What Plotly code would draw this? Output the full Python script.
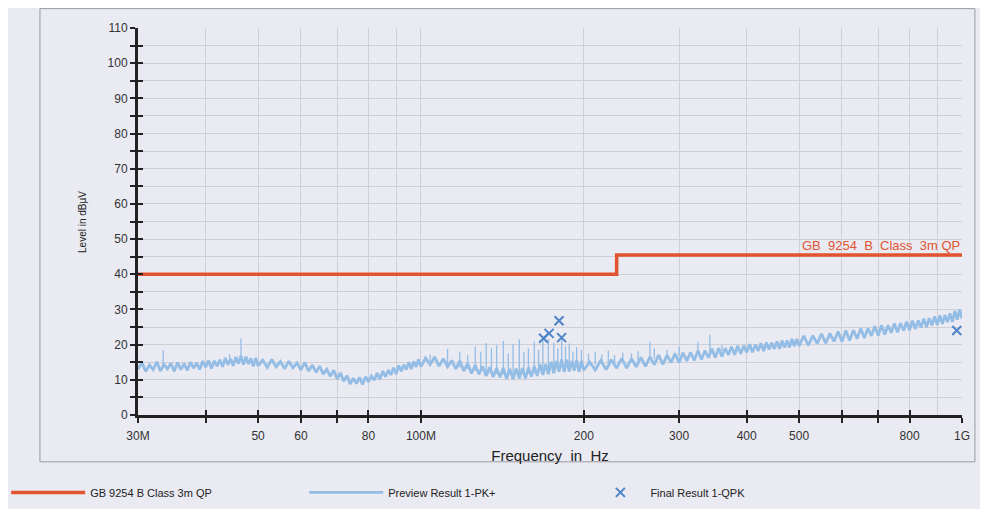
import plotly.graph_objects as go

# limit line (GB 9254 class B, 3 m, QP)
limit_mhz = [30, 230, 230, 1000]
limit_db = [40, 40, 45.5, 45.5]

# preview scan 1-PK+ (MHz, dBuV)
preview_mhz = [
    30.0, 30.5, 31.0, 31.5, 32.0, 32.5, 33.0, 33.5, 34.0, 34.5,
    35.0, 35.5, 36.0, 36.5, 37.0, 37.5, 38.0, 38.5, 39.0, 39.5,
    40.0, 40.5, 41.0, 41.5, 42.0, 42.5, 43.0, 43.5, 44.0, 44.5,
    45.0, 45.5, 46.0, 46.5, 47.0, 47.5, 48.0, 48.5, 49.0, 49.5,
    50, 51, 52, 53, 54, 55, 56, 57, 58, 59,
    60, 61, 62, 63, 64, 65, 66, 67, 68, 69,
    70, 71, 72, 73, 74, 75, 76, 77, 78, 79,
    80, 81, 82, 83, 84, 85, 86, 87, 88, 89,
    90, 91, 92, 93, 94, 95, 96, 97, 98, 99,
    100, 102, 104, 106, 108, 110, 112, 114, 116, 118,
    120, 122, 124, 126, 128, 130, 132, 134, 136, 138,
    140, 142, 144, 146, 148, 150, 152, 154, 156, 158,
    160, 162, 164, 166, 168, 170, 172, 174, 176, 178,
    180, 182, 184, 186, 188, 190, 192, 194, 196, 198,
    200, 205, 210, 215, 220, 225, 230, 235, 240, 245,
    250, 255, 260, 265, 270, 275, 280, 285, 290, 295,
    300, 305, 310, 315, 320, 325, 330, 335, 340, 345,
    350, 355, 360, 365, 370, 375, 380, 385, 390, 395,
    400, 405, 410, 415, 420, 425, 430, 435, 440, 445,
    450, 455, 460, 465, 470, 475, 480, 485, 490, 495,
    500, 510, 520, 530, 540, 550, 560, 570, 580, 590,
    600, 610, 620, 630, 640, 650, 660, 670, 680, 690,
    700, 710, 720, 730, 740, 750, 760, 770, 780, 790,
    800, 810, 820, 830, 840, 850, 860, 870, 880, 890,
    900, 910, 920, 930, 940, 950, 960, 970, 980, 990,
    1000,
]
preview_db = [
    13.0, 14.9, 12.4, 14.2, 12.9, 15.1, 12.5, 14.4, 13.1, 14.7,
    12.4, 14.9, 12.9, 14.6, 12.7, 15.0, 13.3, 14.8, 12.9, 15.3,
    13.6, 15.5, 13.2, 15.4, 13.9, 15.7, 13.7, 16.2, 14.3, 15.9,
    14.0, 16.5, 14.6, 16.8, 14.3, 16.6, 14.5, 16.1, 13.8, 16.2,
    14.0, 15.6, 13.5, 15.8, 13.7, 15.2, 13.1, 15.3, 13.4, 14.8,
    12.8, 14.9, 12.5, 14.2, 12.1, 13.9, 11.6, 13.0, 11.0, 12.7,
    10.2, 12.0, 9.6, 11.2, 8.8, 10.5, 8.9, 10.7, 8.7, 10.9,
    9.4, 11.1, 9.9, 11.9, 10.2, 12.5, 10.9, 12.8, 11.4, 13.4,
    11.7, 14.1, 12.4, 14.3, 12.9, 15.0, 13.1, 15.2, 13.7, 15.8,
    13.8, 16.2, 14.3, 16.5, 13.9, 16.0, 13.7, 15.5, 13.1, 15.4,
    12.5, 14.7, 11.8, 14.2, 11.6, 13.8, 11.1, 13.6, 10.8, 13.3,
    10.7, 13.4, 10.3, 13.1, 10.2, 13.2, 10.4, 13.3, 10.4, 13.5,
    10.9, 13.8, 11.1, 14.4, 11.4, 14.5, 11.6, 15.1, 11.9, 15.3,
    12.3, 15.8, 12.2, 15.7, 12.4, 15.3, 12.6, 15.6, 12.3, 15.4,
    12.7, 15.1, 12.8, 15.5, 12.9, 15.7, 13.3, 16.1, 13.3, 16.0,
    13.7, 16.4, 13.8, 16.5, 14.3, 17.0, 14.4, 17.0, 14.9, 17.5,
    14.9, 17.7, 15.4, 17.8, 15.5, 18.3, 15.8, 18.3, 16.3, 18.8,
    16.3, 19.0, 16.6, 19.0, 17.1, 19.4, 17.1, 19.7, 17.4, 19.7,
    17.8, 20.1, 17.8, 20.0, 18.2, 20.4, 18.2, 20.6, 18.6, 20.5,
    18.8, 20.9, 18.8, 21.1, 19.2, 21.2, 19.2, 21.6, 19.6, 21.6,
    19.6, 22.5, 19.8, 22.6, 20.3, 23.1, 20.4, 23.2, 20.9, 23.7,
    20.9, 24.0, 21.2, 24.1, 21.7, 24.6, 21.9, 24.7, 22.5, 25.2,
    22.6, 25.5, 22.9, 25.5, 23.4, 26.0, 23.5, 26.1, 24.0, 26.5,
    24.1, 26.8, 24.4, 26.9, 24.9, 27.4, 25.0, 27.5, 25.5, 28.0,
    25.6, 28.3, 25.9, 28.4, 26.4, 28.9, 26.5, 29.6, 27.1, 30.0,
    27.4,
]

# narrow spurs on top of the noise floor
spike_mhz = [33.4, 44.3, 46.5, 104, 112, 118, 122, 126, 129, 132,
             135, 138, 142, 145, 148, 152, 155, 158, 162, 165,
             168, 172, 176, 179, 182, 185, 188, 191, 194, 198,
             204, 210, 216, 222, 228, 236, 245, 252, 265, 270,
             285, 300, 325, 342, 360]
spike_top = [18.3, 17.2, 21.8, 17.2, 18.8, 18.0, 17.0, 19.5, 18.0, 20.5,
             19.0, 19.8, 21.0, 17.5, 20.2, 21.5, 18.0, 19.0, 20.8, 18.5,
             22.4, 21.6, 20.5, 19.0, 22.0, 19.5, 20.3, 18.0, 19.2, 18.5,
             17.5, 18.0, 17.2, 18.3, 17.0, 17.8, 17.5, 18.2, 20.8, 19.0,
             18.5, 19.5, 20.8, 22.8, 20.0]
spike_base = [13.5, 15.0, 15.5, 15.0, 14.0, 13.5, 13.0, 12.5, 12.3, 12.0,
              11.8, 11.7, 11.6, 11.5, 11.5, 11.5, 11.6, 11.7, 12.0, 12.3,
              12.6, 13.0, 13.3, 13.5, 13.6, 13.7, 13.8, 13.8, 13.9, 14.0,
              14.2, 14.3, 14.5, 14.6, 14.8, 15.0, 15.2, 15.4, 15.8, 16.0,
              16.4, 16.8, 17.4, 17.8, 18.2]

# final QPK results
final_mhz = [168.5, 172.5, 180, 182, 978]
final_db = [21.8, 23.2, 26.8, 22.0, 24.0]

x_ticks = [30, 40, 50, 60, 70, 80, 100, 200, 300, 400, 500, 600, 700, 800, 1000]
x_labels = ["30M", "", "50", "60", "", "80", "100M", "200", "300", "400", "500", "", "", "800", "1G"]
x_grid = [90, 900]
y_ticks = list(range(0, 111, 10))

RED = "#e2542f"
BLUE = "#94bde6"
MARK = "#4d84c8"
BG = "#eaeaf2"
GRID = "#cfcfd8"
FONT = "Liberation Sans"

fig = go.Figure()

fig.add_trace(go.Scatter(x=preview_mhz, y=preview_db, mode="lines",
                         line=dict(color=BLUE, width=2.8),
                         name="Preview Result 1-PK+", legend="legend2"))

sx, sy = [], []
for f, t, b in zip(spike_mhz, spike_top, spike_base):
    sx += [f, f, None]
    sy += [b, t, None]
fig.add_trace(go.Scatter(x=sx, y=sy, mode="lines", line=dict(color=BLUE, width=1.3),
                         showlegend=False, hoverinfo="skip"))

fig.add_trace(go.Scatter(x=limit_mhz, y=limit_db, mode="lines",
                         line=dict(color=RED, width=3.5),
                         name="GB 9254 B Class 3m QP", legend="legend"))

fig.add_trace(go.Scatter(x=final_mhz, y=final_db, mode="markers",
                         marker=dict(symbol="x-thin", size=9, line=dict(color=MARK, width=2)),
                         name="Final Result 1-QPK", legend="legend3"))

# overlay axes only carry the inward half of the crossing ticks
fig.add_trace(go.Scatter(x=[30], y=[0], xaxis="x2", yaxis="y2", mode="markers",
                         marker=dict(opacity=0), showlegend=False, hoverinfo="skip"))

leg = dict(orientation="h", xanchor="left", y=-0.2, yanchor="middle",
           bgcolor="rgba(0,0,0,0)", font=dict(size=11, color="#222"))

# page body adds an 8px offset, so the figure is sized 8px smaller
fig.update_layout(
    width=980, height=501,
    margin=dict(l=130, r=26, t=20, b=94, autoexpand=False),
    paper_bgcolor=BG, plot_bgcolor=BG,
    font=dict(family=FONT, size=12, color="#333333"),
    xaxis=dict(type="log", range=[1.4771, 3.0], tickvals=x_ticks, ticktext=x_labels,
               ticks="outside", ticklen=5, tickwidth=2, tickcolor="#222",
               showline=True, linewidth=3, linecolor="#222",
               showgrid=True, gridcolor=GRID, gridwidth=1,
               minor=dict(tickvals=x_grid, showgrid=True, gridcolor=GRID, ticks=""),
               tickfont=dict(size=12, color="#333"), ticklabelstandoff=3,
               title=dict(text="Frequency  in  Hz", font=dict(size=15, color="#222"), standoff=9),
               zeroline=False, automargin=False),
    yaxis=dict(range=[0, 110], tickvals=y_ticks,
               ticks="outside", ticklen=5, tickwidth=2, tickcolor="#222",
               showline=True, linewidth=3, linecolor="#222",
               showgrid=True, gridcolor=GRID, gridwidth=1,
               minor=dict(dtick=5, ticks="outside", ticklen=5, tickwidth=2, tickcolor="#222",
                          showgrid=True, gridcolor=GRID),
               tickfont=dict(size=12, color="#333"), zeroline=False, automargin=False),
    xaxis2=dict(type="log", range=[1.4771, 3.0], overlaying="x", anchor="y2", side="bottom",
                tickvals=x_ticks, ticks="inside", ticklen=5, tickwidth=2, tickcolor="#222",
                showticklabels=False, showgrid=False, zeroline=False, showline=False),
    yaxis2=dict(range=[0, 110], overlaying="y", anchor="x2", side="left", dtick=5,
                ticks="inside", ticklen=5, tickwidth=2, tickcolor="#222",
                showticklabels=False, showgrid=False, zeroline=False, showline=False),
    legend=dict(leg, x=-0.16, itemwidth=74),
    legend2=dict(leg, x=0.2017, itemwidth=74),
    legend3=dict(leg, x=0.549, itemwidth=50),
    showlegend=True,
)

fig.add_annotation(text="Level in dBµV", textangle=-90, xref="paper", yref="paper",
                   x=-0.0765, y=0.5, showarrow=False, font=dict(size=10, color="#222"))
fig.add_annotation(text="GB  9254  B  Class  3m QP", xref="paper", yref="y", x=1.0, y=45.5,
                   xanchor="right", yanchor="bottom", showarrow=False,
                   font=dict(size=13, color=RED))

# frame around the printed chart
fig.add_shape(type="rect", xref="paper", yref="paper", x0=-0.119, x1=1.0157, y0=-0.121, y1=1.05,
              line=dict(color="#9a9aa2", width=1), layer="below")

fig.write_html("out.html")
